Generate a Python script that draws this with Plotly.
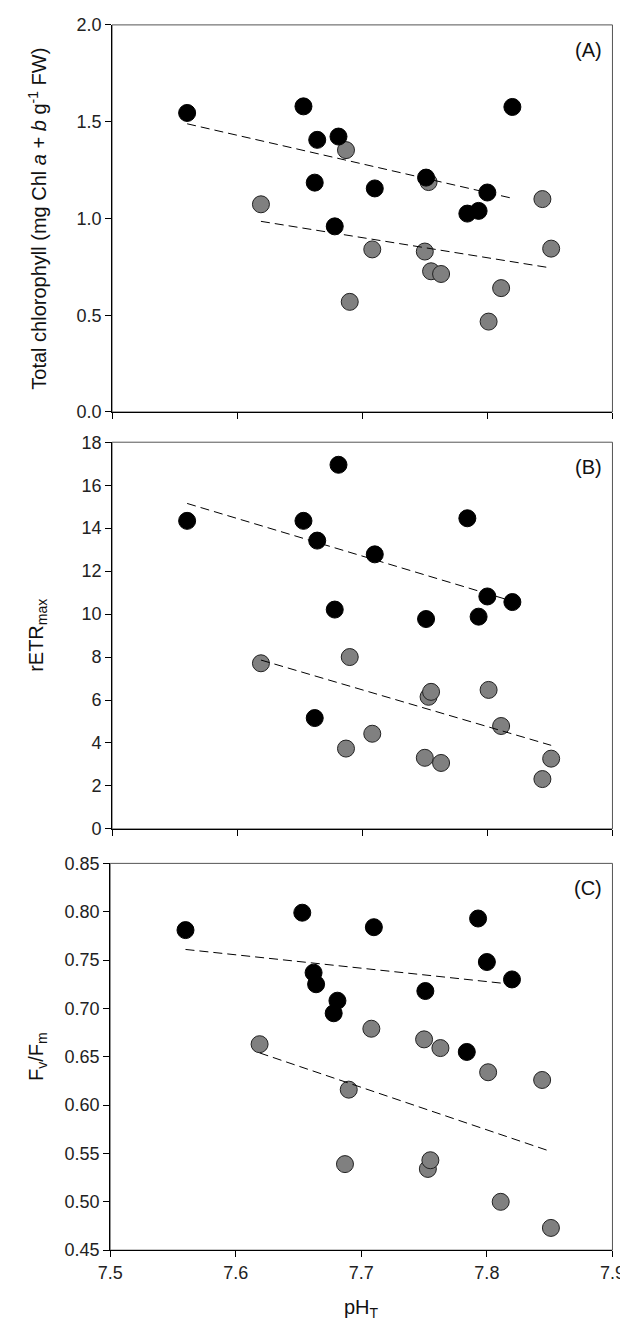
import plotly.graph_objects as go

# ---- data ----
black_ph = [7.560, 7.653, 7.662, 7.664, 7.678, 7.681, 7.710, 7.751, 7.784, 7.793, 7.800, 7.820]
gray_ph = [7.619, 7.687, 7.690, 7.708, 7.750, 7.753, 7.755, 7.763, 7.801, 7.811, 7.844, 7.851]

chl_black = [1.545, 1.579, 1.185, 1.406, 0.959, 1.423, 1.155, 1.211, 1.025, 1.039, 1.134, 1.576]
chl_gray = [1.073, 1.353, 0.569, 0.840, 0.829, 1.188, 0.727, 0.713, 0.467, 0.640, 1.100, 0.844]

etr_black = [14.34, 14.34, 5.16, 13.42, 10.21, 16.95, 12.78, 9.77, 14.46, 9.88, 10.82, 10.56]
etr_gray = [7.71, 3.74, 8.00, 4.43, 3.31, 6.15, 6.38, 3.07, 6.47, 4.79, 2.32, 3.27]

fvfm_black = [0.781, 0.799, 0.737, 0.725, 0.695, 0.708, 0.784, 0.718, 0.655, 0.793, 0.748, 0.730]
fvfm_gray = [0.663, 0.539, 0.616, 0.679, 0.668, 0.534, 0.543, 0.659, 0.634, 0.500, 0.626, 0.473]

# trend line end points
trend_x_black = [7.560, 7.820]
trend_x_gray = [7.619, 7.851]
chl_trend_black = [1.489, 1.104]
chl_trend_gray = [0.985, 0.744]
etr_trend_black = [15.15, 10.60]
etr_trend_gray = [7.86, 3.89]
fvfm_trend_black = [0.761, 0.725]
fvfm_trend_gray = [0.654, 0.552]

panel_labels = ["(A)", "(B)", "(C)"]
y_titles = ["Total chlorophyll (mg Chl <i>a</i> + <i>b</i> g<sup>-1</sup> FW)",
            "rETR<sub>max</sub>",
            "F<sub>v</sub>/F<sub>m</sub>"]
x_title = "pH<sub>T</sub>"
x_ticks = [7.5, 7.6, 7.7, 7.8, 7.9]

# ---- layout geometry ----
W, H = 628, 1329
FONT = "Liberation Sans, Arial, sans-serif"
TICK_SIZE = 18
TITLE_SIZE = 20

def py(p):
    return 1 - p / H

def px(p):
    return p / W

panels = [
    dict(x=(95, 617), y=(7, 400), rng=[0, 2], dtick=0.5, fmt=".1f",
         yb=chl_black, yg=chl_gray, tb=chl_trend_black, tg=chl_trend_gray),
    dict(x=(95, 617), y=(430.7, 823.3), rng=[0, 18], dtick=2, fmt="d",
         yb=etr_black, yg=etr_gray, tb=etr_trend_black, tg=etr_trend_gray),
    dict(x=(93, 617), y=(858.3, 1251), rng=[0.45, 0.85], dtick=0.05, fmt=".2f",
         yb=fvfm_black, yg=fvfm_gray, tb=fvfm_trend_black, tg=fvfm_trend_gray),
]

fig = go.Figure()
layout = dict(
    width=W, height=H, margin=dict(l=0, r=0, t=0, b=0),
    paper_bgcolor="white", plot_bgcolor="white", showlegend=False,
    font=dict(family=FONT, color="#111", size=TICK_SIZE),
)
annotations = []
shapes = []

for i, p in enumerate(panels):
    n = "" if i == 0 else str(i + 1)
    xa, ya = "x" + n, "y" + n
    marker_common = dict(size=17, symbol="circle")
    fig.add_trace(go.Scatter(x=gray_ph, y=p["yg"], mode="markers", xaxis=xa, yaxis=ya,
                             marker=dict(color="#808080", line=dict(color="#222", width=1), **marker_common)))
    fig.add_trace(go.Scatter(x=black_ph, y=p["yb"], mode="markers", xaxis=xa, yaxis=ya,
                             marker=dict(color="#000000", line=dict(color="#000", width=1), **marker_common)))
    fig.add_trace(go.Scatter(x=trend_x_black, y=p["tb"], mode="lines", xaxis=xa, yaxis=ya,
                             line=dict(color="#000", width=1, dash="9px,5px")))
    fig.add_trace(go.Scatter(x=trend_x_gray, y=p["tg"], mode="lines", xaxis=xa, yaxis=ya,
                             line=dict(color="#000", width=1, dash="9px,5px")))

    layout["xaxis" + n] = dict(
        domain=[px(p["x"][0]), px(p["x"][1])], range=[7.5, 7.9], tickvals=x_ticks,
        ticks="outside", ticklen=6, tickwidth=1, tickcolor="#000",
        showticklabels=(i == 2), tickformat=".1f", ticklabeloverflow="allow",
        showline=True, linecolor="#000", linewidth=1, showgrid=False, zeroline=False,
        anchor=ya, tickfont=dict(size=TICK_SIZE, color="#222"),
    )
    layout["yaxis" + n] = dict(
        domain=[py(p["y"][1]), py(p["y"][0])], range=p["rng"], dtick=p["dtick"],
        tick0=p["rng"][0], tickformat=p["fmt"], ticklabeloverflow="allow",
        ticks="outside", ticklen=6, tickwidth=1, tickcolor="#000",
        showline=True, linecolor="#000", linewidth=1, showgrid=False, zeroline=False,
        anchor=xa, tickfont=dict(size=TICK_SIZE, color="#222"),
    )
    shapes.append(dict(type="rect", xref=xa + " domain", yref=ya + " domain",
                       x0=0, x1=1, y0=0, y1=1, line=dict(color="#555", width=1),
                       layer="below"))
    annotations.append(dict(text=panel_labels[i], xref="paper", yref="paper",
                            x=px(592), y=py(p["y"][0] + 25), showarrow=False,
                            xanchor="center", yanchor="middle",
                            font=dict(size=TITLE_SIZE, color="#111")))
    annotations.append(dict(text=y_titles[i], xref="paper", yref="paper",
                            x=px(17), y=py((p["y"][0] + p["y"][1]) / 2), showarrow=False,
                            textangle=-90, xanchor="center", yanchor="middle",
                            font=dict(size=TITLE_SIZE, color="#111")))

annotations.append(dict(text=x_title, xref="paper", yref="paper",
                        x=px(355), y=py(1310), showarrow=False,
                        xanchor="center", yanchor="middle",
                        font=dict(size=TITLE_SIZE, color="#111")))

layout["annotations"] = annotations
layout["shapes"] = shapes
fig.update_layout(**layout)
fig.write_html("out.html")
